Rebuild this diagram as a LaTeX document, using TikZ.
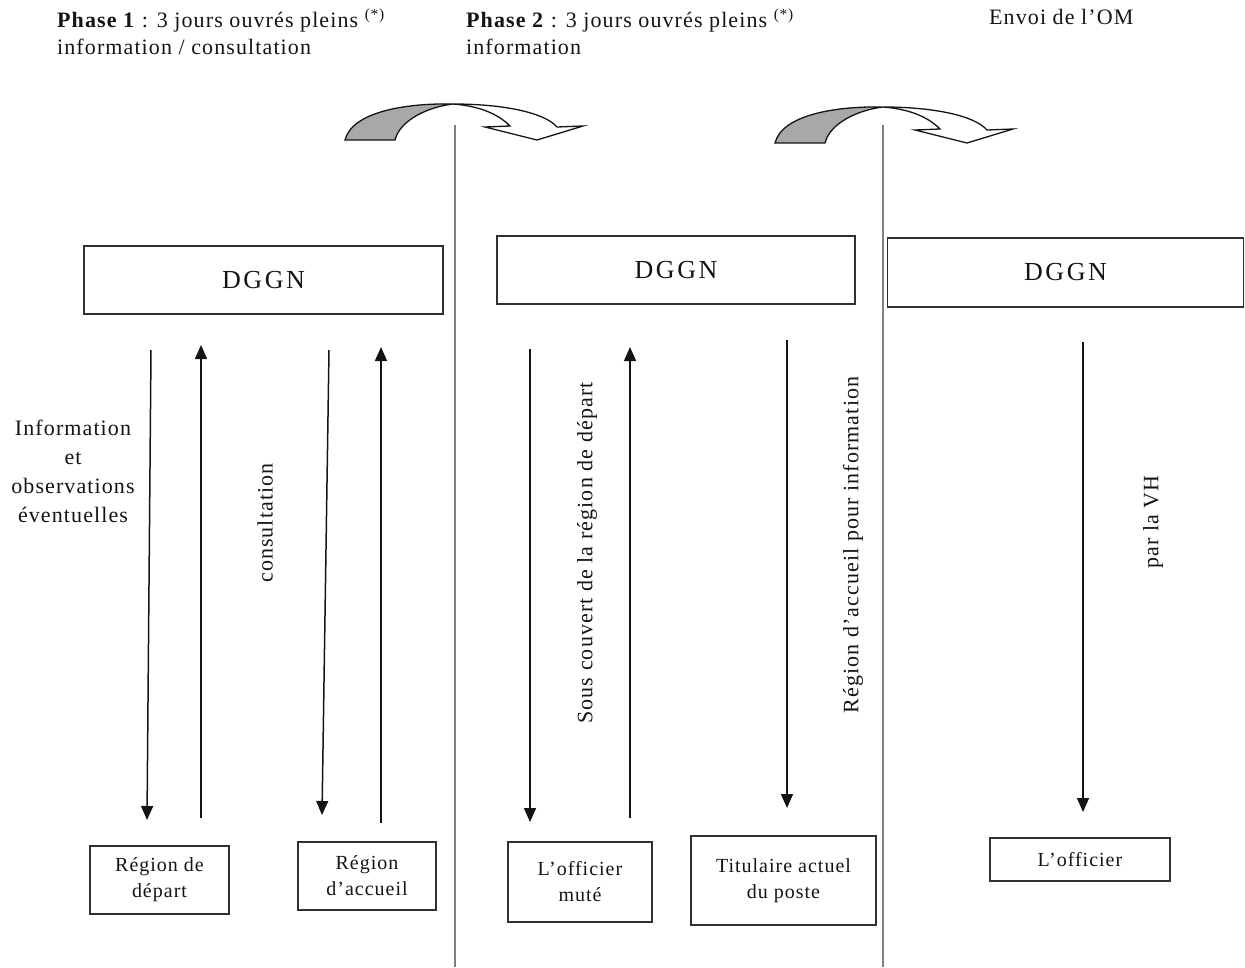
\documentclass[tikz,border=0pt]{standalone}
\usepackage{fontspec}
\setmainfont{Liberation Serif}[LetterSpace=5]
\usetikzlibrary{arrows.meta}
\definecolor{ink}{HTML}{141414}
\definecolor{boxc}{HTML}{303030}
\definecolor{sepc}{HTML}{808080}
\definecolor{backc}{HTML}{A8A8A8}
\begin{document}
\begin{tikzpicture}[x=1pt,y=-1pt,
  txt/.style={text=ink,font=\fontsize{22}{29}\selectfont,inner sep=0pt,align=center},
  head/.style={text=ink,font=\fontsize{22}{27}\selectfont,inner sep=0pt,align=left,anchor=north west},
  topbox/.style={draw=boxc,line width=1.6pt,fill=white,inner sep=0pt,text=ink,
     font=\fontsize{26}{30}\selectfont\addfontfeature{LetterSpace=10}},
  lowbox/.style={draw=boxc,line width=1.6pt,fill=white,inner sep=0pt,text=ink,align=center,
     font=\fontsize{20}{26}\selectfont},
  arr/.style={draw=ink,line width=1.5pt,-{Triangle[width=12pt,length=14pt]}},
  sep/.style={draw=sepc,line width=1.2pt},
  rot/.style={txt,rotate=90},
  backpart/.style={draw=ink,line width=1.3pt,fill=backc},
  frontpart/.style={draw=ink,line width=1.3pt,fill=white}]
\useasboundingbox (0,0) rectangle (1245,967);

% headers
\node[head] (h1) at (57,9) {\textbf{Phase 1} : 3 jours ouvrés pleins \textsuperscript{(*)}\\information / consultation};
\node[head] (h2) at (466,9) {\textbf{Phase 2} : 3 jours ouvrés pleins \textsuperscript{(*)}\\information};
\node[head] (h3) at (989,9) {Envoi de l'OM};

% separators
\coordinate (s1t) at (455,125); \coordinate (s1b) at (455,967);
\coordinate (s2t) at (883,125); \coordinate (s2b) at (883,967);
\draw[sep] (s1t) -- (s1b);
\draw[sep] (s2t) -- (s2b);

% curved arrows
\foreach \dx/\dy in {0/0, 430/3}{
\begin{scope}[shift={(\dx,\dy)}]
\draw[backpart] (345,140) .. controls (352,112) and (405,103) .. (453,104)
   .. controls (428,107) and (400,120) .. (395,140) -- cycle;
\draw[frontpart] (453,104) .. controls (505,104) and (545,113) .. (557,127)
   -- (583,126) -- (537,140) -- (485,127) -- (510,126)
   .. controls (497,113) and (478,106) .. (453,104) -- cycle;
\end{scope}}

% top boxes
\node[topbox,minimum width=359pt,minimum height=68pt] (d1) at (263.5,280) {DGGN};
\node[topbox,minimum width=358pt,minimum height=68pt] (d2) at (676,270) {DGGN};
\node[topbox,minimum width=356pt,minimum height=69pt] (d3) at (1065.5,272.5) {DGGN};

% bottom boxes
\node[lowbox,minimum width=139pt,minimum height=68pt] (rd) at (159.5,880) {Région de\\départ};
\node[lowbox,minimum width=138pt,minimum height=68pt] (ra) at (367,876) {Région\\d'accueil};
\node[lowbox,minimum width=144pt,minimum height=80pt] (om) at (580,882) {L'officier\\muté};
\node[lowbox,minimum width=185pt,minimum height=89pt] (tp) at (783.5,880.5) {Titulaire actuel\\du poste};
\node[lowbox,minimum width=180pt,minimum height=43pt] (of) at (1080,859.5) {L'officier};

% arrows
\coordinate (a1s) at (151,350); \coordinate (a1e) at (147,820);
\coordinate (a2s) at (201,818); \coordinate (a2e) at (201,345);
\coordinate (a3s) at (329,350); \coordinate (a3e) at (322,815);
\coordinate (a4s) at (381,823); \coordinate (a4e) at (381,347);
\coordinate (b1s) at (530,349); \coordinate (b1e) at (530,822);
\coordinate (b2s) at (630,818); \coordinate (b2e) at (630,347);
\coordinate (b3s) at (787,340); \coordinate (b3e) at (787,808);
\coordinate (c1s) at (1083,342); \coordinate (c1e) at (1083,812);
\draw[arr] (a1s) -- (a1e);
\draw[arr] (a2s) -- (a2e);
\draw[arr] (a3s) -- (a3e);
\draw[arr] (a4s) -- (a4e);
\draw[arr] (b1s) -- (b1e);
\draw[arr] (b2s) -- (b2e);
\draw[arr] (b3s) -- (b3e);
\draw[arr] (c1s) -- (c1e);

% labels
\node[txt] (l1) at (73,471) {Information\\et\\observations\\éventuelles};
\node[rot] (l2) at (265,523) {consultation};
\node[rot] (l3) at (587,553) {Sous couvert de la région de départ};
\node[rot] (l4) at (853,545) {Région d'accueil pour information};
\node[rot] (l5) at (1153,522) {par la VH};
\end{tikzpicture}
\end{document}
